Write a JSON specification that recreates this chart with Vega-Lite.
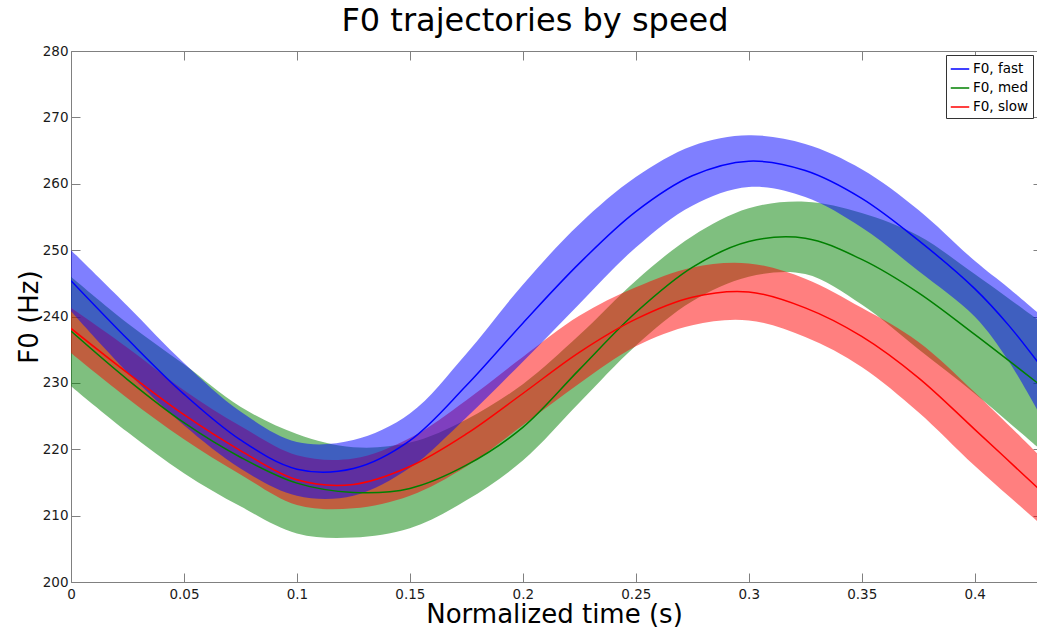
{
  "$schema": "https://vega.github.io/schema/vega-lite/v6.json",
  "width": 966,
  "height": 531,
  "autosize": "none",
  "padding": {"left": 71, "top": 51, "right": 0, "bottom": 47},
  "config": {
    "font": "DejaVu Sans",
    "view": {"stroke": null},
    "axis": {
      "grid": false,
      "domainColor": "#808080",
      "tickColor": "#808080",
      "labelColor": "#1a1a1a",
      "titleColor": "#000000",
      "labelFontSize": 13.5,
      "titleFontSize": 26,
      "titleFontWeight": "normal",
      "labelFlush": false
    }
  },
  "title": {"text": "F0 trajectories by speed", "fontSize": 32, "fontWeight": "normal", "color": "#000000", "anchor": "middle", "frame": "group", "offset": 6, "dx": -19},
  "data": {
    "values": [
      {"s": "F0, fast", "t": 0, "f": 245.4, "lo": 240.8, "hi": 250.0},
      {"s": "F0, fast", "t": 0.025, "f": 236.6, "lo": 231.6, "hi": 241.6},
      {"s": "F0, fast", "t": 0.05, "f": 228.3, "lo": 223.6, "hi": 233.0},
      {"s": "F0, fast", "t": 0.075, "f": 221.4, "lo": 217.1, "hi": 225.7},
      {"s": "F0, fast", "t": 0.1, "f": 217.0, "lo": 213.0, "hi": 221.1},
      {"s": "F0, fast", "t": 0.125, "f": 217.1, "lo": 213.0, "hi": 221.4},
      {"s": "F0, fast", "t": 0.15, "f": 221.3, "lo": 217.2, "hi": 225.4},
      {"s": "F0, fast", "t": 0.175, "f": 229.6, "lo": 224.8, "hi": 234.4},
      {"s": "F0, fast", "t": 0.2, "f": 239.0, "lo": 233.2, "hi": 244.8},
      {"s": "F0, fast", "t": 0.225, "f": 248.0, "lo": 241.9, "hi": 253.9},
      {"s": "F0, fast", "t": 0.25, "f": 255.8, "lo": 250.4, "hi": 261.0},
      {"s": "F0, fast", "t": 0.275, "f": 261.2, "lo": 256.7, "hi": 265.7},
      {"s": "F0, fast", "t": 0.3, "f": 263.4, "lo": 259.5, "hi": 267.3},
      {"s": "F0, fast", "t": 0.325, "f": 262.0, "lo": 258.0, "hi": 266.0},
      {"s": "F0, fast", "t": 0.35, "f": 257.8, "lo": 253.4, "hi": 262.2},
      {"s": "F0, fast", "t": 0.375, "f": 251.5, "lo": 246.9, "hi": 256.1},
      {"s": "F0, fast", "t": 0.4, "f": 244.2, "lo": 240.0, "hi": 248.4},
      {"s": "F0, fast", "t": 0.415, "f": 238.7, "lo": 233.3, "hi": 244.3},
      {"s": "F0, fast", "t": 0.43, "f": 232.2, "lo": 224.5, "hi": 240.0},
      {"s": "F0, med", "t": 0, "f": 237.8, "lo": 229.5, "hi": 246.0},
      {"s": "F0, med", "t": 0.025, "f": 230.5, "lo": 222.6, "hi": 239.0},
      {"s": "F0, med", "t": 0.05, "f": 224.0, "lo": 216.4, "hi": 232.8},
      {"s": "F0, med", "t": 0.075, "f": 218.8, "lo": 211.4, "hi": 226.4},
      {"s": "F0, med", "t": 0.1, "f": 214.9, "lo": 207.3, "hi": 222.3},
      {"s": "F0, med", "t": 0.125, "f": 213.5, "lo": 206.7, "hi": 220.3},
      {"s": "F0, med", "t": 0.15, "f": 214.1, "lo": 208.1, "hi": 221.0},
      {"s": "F0, med", "t": 0.175, "f": 217.6, "lo": 212.3, "hi": 224.5},
      {"s": "F0, med", "t": 0.2, "f": 223.3, "lo": 218.3, "hi": 229.8},
      {"s": "F0, med", "t": 0.225, "f": 232.0, "lo": 227.0, "hi": 237.2},
      {"s": "F0, med", "t": 0.25, "f": 240.6, "lo": 235.6, "hi": 245.4},
      {"s": "F0, med", "t": 0.275, "f": 247.4, "lo": 242.3, "hi": 252.1},
      {"s": "F0, med", "t": 0.3, "f": 251.3, "lo": 246.0, "hi": 256.3},
      {"s": "F0, med", "t": 0.325, "f": 251.8, "lo": 246.4, "hi": 257.3},
      {"s": "F0, med", "t": 0.35, "f": 248.6, "lo": 241.8, "hi": 255.6},
      {"s": "F0, med", "t": 0.375, "f": 243.6, "lo": 235.1, "hi": 252.2},
      {"s": "F0, med", "t": 0.4, "f": 237.3, "lo": 228.4, "hi": 246.4},
      {"s": "F0, med", "t": 0.43, "f": 229.4, "lo": 219.7, "hi": 239.0},
      {"s": "F0, slow", "t": 0, "f": 238.2, "lo": 234.5, "hi": 241.3},
      {"s": "F0, slow", "t": 0.025, "f": 231.5, "lo": 227.7, "hi": 235.3},
      {"s": "F0, slow", "t": 0.05, "f": 225.2, "lo": 221.5, "hi": 228.9},
      {"s": "F0, slow", "t": 0.075, "f": 219.8, "lo": 216.2, "hi": 223.5},
      {"s": "F0, slow", "t": 0.1, "f": 215.4, "lo": 211.6, "hi": 219.1},
      {"s": "F0, slow", "t": 0.125, "f": 214.7, "lo": 211.1, "hi": 218.6},
      {"s": "F0, slow", "t": 0.15, "f": 217.4, "lo": 213.0, "hi": 221.7},
      {"s": "F0, slow", "t": 0.175, "f": 222.3, "lo": 217.4, "hi": 227.4},
      {"s": "F0, slow", "t": 0.2, "f": 228.4, "lo": 223.6, "hi": 233.9},
      {"s": "F0, slow", "t": 0.225, "f": 234.6, "lo": 229.9, "hi": 240.1},
      {"s": "F0, slow", "t": 0.25, "f": 239.6, "lo": 235.5, "hi": 244.4},
      {"s": "F0, slow", "t": 0.275, "f": 242.9, "lo": 238.7, "hi": 247.4},
      {"s": "F0, slow", "t": 0.3, "f": 243.7, "lo": 239.4, "hi": 248.0},
      {"s": "F0, slow", "t": 0.325, "f": 241.3, "lo": 236.9, "hi": 245.7},
      {"s": "F0, slow", "t": 0.35, "f": 237.0, "lo": 232.4, "hi": 241.3},
      {"s": "F0, slow", "t": 0.375, "f": 230.8, "lo": 225.6, "hi": 236.2},
      {"s": "F0, slow", "t": 0.4, "f": 223.0, "lo": 217.5, "hi": 228.6},
      {"s": "F0, slow", "t": 0.43, "f": 213.5, "lo": 208.5, "hi": 218.6}
    ]
  },
  "layer": [
    {
      "transform": [{"filter": "datum.s == 'F0, med'"}],
      "mark": {"type": "area", "color": "#008000", "opacity": 0.5, "interpolate": "catmull-rom", "clip": true},
      "encoding": {
        "x": {"field": "t", "type": "quantitative", "scale": {"domain": [0, 0.4276], "nice": false, "zero": false}, "axis": null},
        "y": {"field": "lo", "type": "quantitative", "scale": {"domain": [200, 280], "nice": false, "zero": false}, "axis": null},
        "y2": {"field": "hi"}
      }
    },
    {
      "transform": [{"filter": "datum.s == 'F0, slow'"}],
      "mark": {"type": "area", "color": "#ff0000", "opacity": 0.5, "interpolate": "catmull-rom", "clip": true},
      "encoding": {
        "x": {"field": "t", "type": "quantitative", "axis": null},
        "y": {"field": "lo", "type": "quantitative", "axis": null},
        "y2": {"field": "hi"}
      }
    },
    {
      "transform": [{"filter": "datum.s == 'F0, fast'"}],
      "mark": {"type": "area", "color": "#0000ff", "opacity": 0.5, "interpolate": "catmull-rom", "clip": true},
      "encoding": {
        "x": {"field": "t", "type": "quantitative", "axis": {"orient": "top", "labels": false, "title": null, "tickSize": -9, "values": [0, 0.05, 0.1, 0.15, 0.2, 0.25, 0.3, 0.35, 0.4]}},
        "y": {"field": "lo", "type": "quantitative", "axis": {"orient": "right", "labels": false, "title": null, "domain": false, "tickSize": -4, "values": [200, 210, 220, 230, 240, 250, 260, 270, 280]}},
        "y2": {"field": "hi"}
      }
    },
    {
      "mark": {"type": "line", "strokeWidth": 1.5, "interpolate": "catmull-rom", "clip": true},
      "encoding": {
        "x": {"field": "t", "type": "quantitative", "axis": {"orient": "bottom", "title": "Normalized time (s)", "tickSize": -9, "labelPadding": 14, "titlePadding": 1, "format": "~g", "values": [0, 0.05, 0.1, 0.15, 0.2, 0.25, 0.3, 0.35, 0.4]}},
        "y": {"field": "f", "type": "quantitative", "axis": {"orient": "left", "title": "F0 (Hz)", "tickSize": -9, "labelPadding": 12, "titlePadding": 0, "values": [200, 210, 220, 230, 240, 250, 260, 270, 280]}},
        "color": {
          "field": "s", "type": "nominal",
          "scale": {"domain": ["F0, fast", "F0, med", "F0, slow"], "range": ["#0000ff", "#008000", "#ff0000"]},
          "legend": {"title": null, "orient": "top-right", "offset": 4, "padding": 4, "strokeColor": "#333333", "fillColor": "#ffffff", "cornerRadius": 0, "symbolType": "stroke", "symbolSize": 342, "symbolStrokeWidth": 1.5, "labelFontSize": 13.5, "labelOffset": 3, "rowPadding": 2, "labelColor": "#000000"}
        }
      }
    }
  ],
  "resolve": {"axis": {"x": "independent", "y": "independent"}}
}
